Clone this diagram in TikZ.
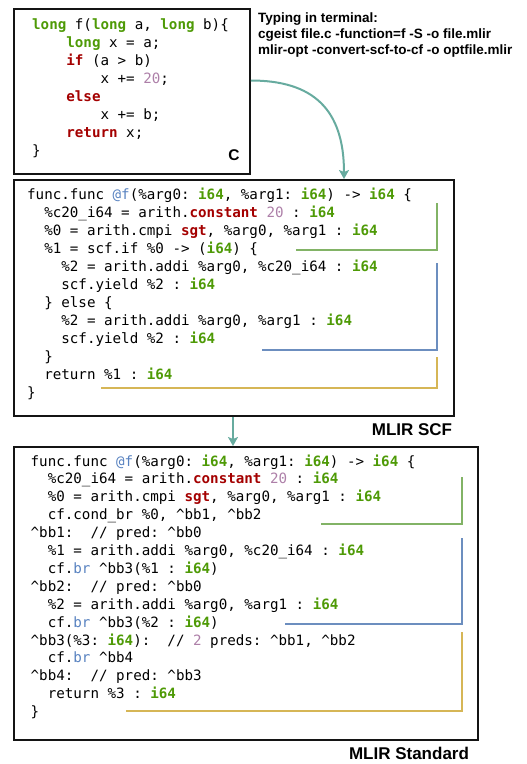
\documentclass[tikz,border=0pt]{standalone}
\usepackage{fontspec}
\setmainfont{Liberation Sans}
\setsansfont{Liberation Sans}
\setmonofont{DejaVu Sans Mono}
\usetikzlibrary{arrows.meta,calc}

% syntax colours
\definecolor{kwgreen}{RGB}{78,154,6}
\definecolor{kwred}{RGB}{164,0,0}
\definecolor{numplum}{RGB}{173,127,168}
\definecolor{fnblue}{RGB}{88,130,192}
% bracket and arrow colours
\definecolor{brgreen}{RGB}{130,179,102}
\definecolor{brblue}{RGB}{108,142,191}
\definecolor{bryellow}{RGB}{214,182,86}
\definecolor{flowteal}{RGB}{103,171,159}
\definecolor{boxline}{RGB}{20,20,20}

\newcommand\tyg[1]{\textcolor{kwgreen}{\bfseries #1}}
\newcommand\kwr[1]{\textcolor{kwred}{\bfseries #1}}
\newcommand\nmp[1]{\textcolor{numplum}{#1}}
\newcommand\fnb[1]{\textcolor{fnblue}{#1}}
\newcommand\crt{\textasciicircum}

\begin{document}
\begin{tikzpicture}[x=1pt,y=-1pt,
  box/.style={draw=boxline, line width=1.8pt, inner sep=0pt, anchor=north west},
  cline/.style={anchor=base west, inner sep=0pt, font=\ttfamily\fontsize{14.2}{18}\selectfont},
  term/.style={anchor=base west, inner sep=0pt, font=\sffamily\bfseries\fontsize{13.5}{16}\selectfont},
  tag/.style={inner sep=0pt, font=\sffamily\bfseries\fontsize{17}{20}\selectfont},
  flow/.style={draw=flowteal, line width=2pt, -{Stealth[length=9pt,width=10pt,inset=2pt]}},
  brk/.style={line width=2pt}
]
\useasboundingbox (0,0) rectangle (527,764);

% ---- frames ----
\node[box, minimum width=236pt, minimum height=165pt] (cbox) at (13,8) {};
\node[box, minimum width=440pt, minimum height=236pt] (scf) at (13,179) {};
\node[box, minimum width=464pt, minimum height=293pt] (std) at (13,446) {};

% ---- C source ----
\node[cline] (c1) at (32,29)    {\tyg{long} f(\tyg{long} a, \tyg{long} b)\{};
\node[cline] (c2) at (66.2,47)  {\tyg{long} x = a;};
\node[cline] (c3) at (66.2,65)  {\kwr{if} (a > b)};
\node[cline] (c4) at (100.4,83) {x += \nmp{20};};
\node[cline] (c5) at (66.2,101) {\kwr{else}};
\node[cline] (c6) at (100.4,119){x += b;};
\node[cline] (c7) at (66.2,137) {\kwr{return} x;};
\node[cline] (c8) at (32,155)   {\}};
\node[tag, font=\sffamily\bfseries\fontsize{15.5}{18}\selectfont] (clabel) at (234,155.5) {C};

% ---- command lines ----
\node[term] (t1) at (258,22.5) {Typing in terminal:};
\node[term] (t2) at (258,38.5) {cgeist file.c -function=f -S -o file.mlir};
\node[term] (t3) at (258,54.5) {mlir-opt -convert-scf-to-cf -o optfile.mlir};

% ---- MLIR SCF ----
\node[cline] (s1)  at (27,199)   {func.func \fnb{@f}(\%arg0: \tyg{i64}, \%arg1: \tyg{i64}) -> \tyg{i64} \{};
\node[cline] (s2)  at (44.1,217) {\%c20\_i64 = arith.\kwr{constant} \nmp{20} : \tyg{i64}};
\node[cline] (s3)  at (44.1,235) {\%0 = arith.cmpi \kwr{sgt}, \%arg0, \%arg1 : \tyg{i64}};
\node[cline] (s4)  at (44.1,253) {\%1 = scf.if \%0 -> (\tyg{i64}) \{};
\node[cline] (s5)  at (61.2,271) {\%2 = arith.addi \%arg0, \%c20\_i64 : \tyg{i64}};
\node[cline] (s6)  at (61.2,289) {scf.yield \%2 : \tyg{i64}};
\node[cline] (s7)  at (44.1,307) {\} else \{};
\node[cline] (s8)  at (61.2,325) {\%2 = arith.addi \%arg0, \%arg1 : \tyg{i64}};
\node[cline] (s9)  at (61.2,343) {scf.yield \%2 : \tyg{i64}};
\node[cline] (s10) at (44.1,361) {\}};
\node[cline] (s11) at (44.1,379) {return \%1 : \tyg{i64}};
\node[cline] (s12) at (27,397)   {\}};
\node[tag] (scflabel) at (412,430) {MLIR SCF};

\draw[brk, brgreen]  (296,250) -| (437,203);
\draw[brk, brblue]   (262,350) -| (437,263);
\draw[brk, bryellow] (101,388) -| (437,357);

% ---- MLIR Standard ----
\node[cline] (d1)  at (30.5,466)   {func.func \fnb{@f}(\%arg0: \tyg{i64}, \%arg1: \tyg{i64}) -> \tyg{i64} \{};
\node[cline] (d2)  at (47.6,483.9) {\%c20\_i64 = arith.\kwr{constant} \nmp{20} : \tyg{i64}};
\node[cline] (d3)  at (47.6,501.8) {\%0 = arith.cmpi \kwr{sgt}, \%arg0, \%arg1 : \tyg{i64}};
\node[cline] (d4)  at (47.6,519.7) {cf.cond\_br \%0, \crt bb1, \crt bb2};
\node[cline] (d5)  at (30.5,537.6) {\crt bb1:~~// pred: \crt bb0};
\node[cline] (d6)  at (47.6,555.5) {\%1 = arith.addi \%arg0, \%c20\_i64 : \tyg{i64}};
\node[cline] (d7)  at (47.6,573.4) {cf.\fnb{br} \crt bb3(\%1 : \tyg{i64})};
\node[cline] (d8)  at (30.5,591.3) {\crt bb2:~~// pred: \crt bb0};
\node[cline] (d9)  at (47.6,609.2) {\%2 = arith.addi \%arg0, \%arg1 : \tyg{i64}};
\node[cline] (d10) at (47.6,627.1) {cf.\fnb{br} \crt bb3(\%2 : \tyg{i64})};
\node[cline] (d11) at (30.5,645.0) {\crt bb3(\%3: \tyg{i64}):~~// \nmp{2} preds: \crt bb1, \crt bb2};
\node[cline] (d12) at (47.6,662.9) {cf.\fnb{br} \crt bb4};
\node[cline] (d13) at (30.5,680.8) {\crt bb4:~~// pred: \crt bb3};
\node[cline] (d14) at (47.6,698.7) {return \%3 : \tyg{i64}};
\node[cline] (d15) at (30.5,716.6) {\}};
\node[tag] (stdlabel) at (409,753) {MLIR Standard};

\draw[brk, brgreen]  (321,524) -| (462,477);
\draw[brk, brblue]   (285,624) -| (462,538);
\draw[brk, bryellow] (126,711) -| (462,632);

% ---- lowering arrows ----
\coordinate (c-out) at ($(cbox.north east)+(0,72.5)$);
\coordinate (scf-in) at ($(scf.north west)+(331,0)$);
\coordinate (scf-out) at ($(scf.south west)+(220,0)$);
\draw[flow] (c-out) .. controls ($(c-out)+(62,0)$) and ($(scf-in)+(0,-70)$) .. (scf-in);
\draw[flow] (scf-out) -- (scf-out |- std.north);
\end{tikzpicture}
\end{document}
